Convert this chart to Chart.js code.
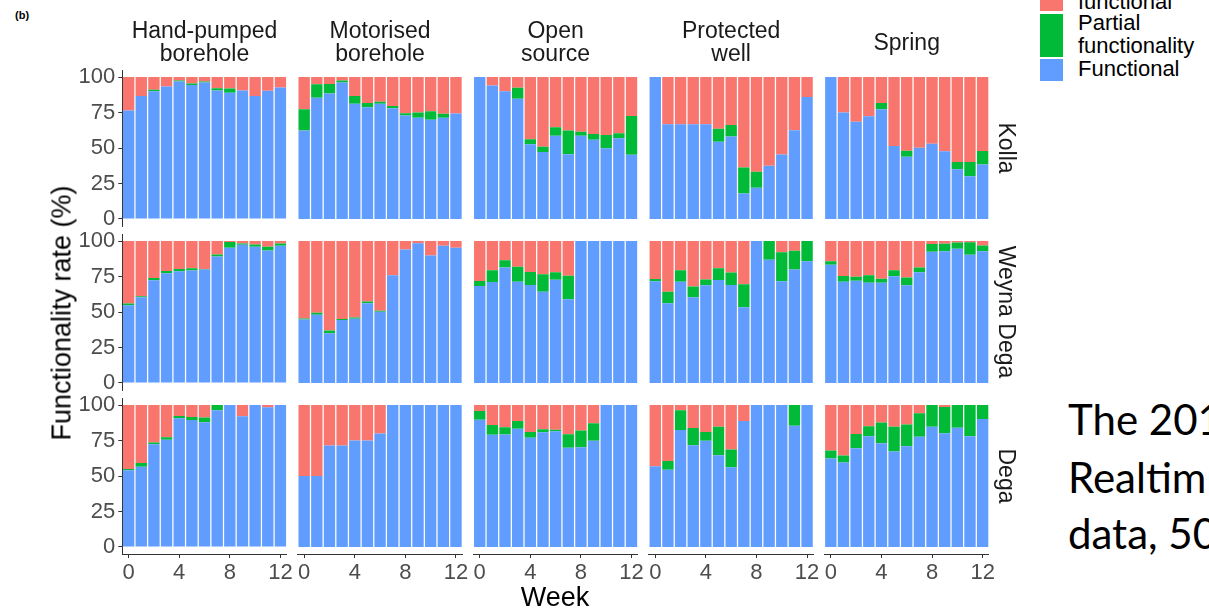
<!DOCTYPE html>
<html>
<head>
<meta charset="utf-8">
<script src="https://cdn.jsdelivr.net/npm/chart.js@4.4.1/dist/chart.umd.min.js"></script>
<style>
  html, body { margin: 0; padding: 0; background: #ffffff; }
  body { width: 1209px; height: 611px; position: relative; overflow: hidden;
         font-family: "Liberation Sans", Arial, sans-serif; }
  canvas { position: absolute; }
  .strip-top { position: absolute; display: flex; align-items: center; justify-content: center;
               text-align: center; font-size: 23px; line-height: 23px; color: #1a1a1a; white-space: pre-line; }
  .strip-right { position: absolute; font-size: 23px; color: #1a1a1a; white-space: nowrap;
                 transform: translate(-50%, -50%) rotate(90deg); }
  .axis-title { position: absolute; font-size: 27px; color: #000; white-space: nowrap; }
  .key { position: absolute; width: 23px; }
  .key-text { position: absolute; font-size: 22px; line-height: 22px; color: #000; white-space: nowrap; }
  .tag { position: absolute; left: 15px; top: 9px; font-size: 11px; font-weight: bold; color: #000; }
  .side-note { position: absolute; left: 1068px; font-family: Lato, "Open Sans", sans-serif;
               font-size: 42px; line-height: 42px; color: #000; white-space: nowrap; }
</style>
</head>
<body>
<div class="tag">(b)</div>
<div id="root"></div>
<script>
// Facets, weeks and ticks
const sourceTypes = ['Hand-pumped\nborehole', 'Motorised\nborehole', 'Open\nsource', 'Protected\nwell', 'Spring'];
const districts = ['Kolla', 'Weyna Dega', 'Dega'];
const weeks = [0, 1, 2, 3, 4, 5, 6, 7, 8, 9, 10, 11, 12];
const weekTicks = [0, 4, 8, 12];
const rateTicks = [0, 25, 50, 75, 100];
const statusNames = ['Functional', 'Partial functionality', 'Non-functional'];
const statusColors = ['#619CFF', '#00BA38', '#F8766D'];

// Functionality rate (%) per source type (rows) and week (columns)
const kollaFunctional = [
  [76.5, 86.6, 90.1, 93.4, 96.9, 94.4, 96.2, 90.6, 88.9, 90.6, 86.6, 90.4, 92.7],
  [62.4, 85.4, 88.5, 96.2, 81.2, 78.8, 81.2, 78.1, 72.9, 71.3, 69.9, 71.3, 74.4],
  [100, 94.1, 90.1, 84.7, 52.7, 47.1, 58.6, 45.6, 58.6, 55.8, 49.9, 56.9, 45.2],
  [100, 66.7, 66.7, 66.7, 66.7, 54.4, 58.1, 17.9, 21.9, 37.4, 45.4, 62.6, 85.9],
  [100, 75.0, 68.5, 72.4, 77.3, 51.4, 43.9, 50.2, 53.0, 47.7, 35.0, 30.1, 38.3]
];
const kollaPartial = [
  [0, 0, 1.0, 0, 0.7, 1.0, 0.7, 1.6, 3.0, 0, 0, 0, 0],
  [15.0, 9.6, 6.6, 1.4, 5.4, 3.0, 1.4, 1.6, 1.6, 3.8, 6.1, 2.8, 0],
  [0, 0, 0, 7.8, 3.5, 3.8, 6.1, 16.7, 2.8, 4.0, 9.2, 3.5, 27.3],
  [0, 0, 0, 0, 0, 9.2, 8.2, 18.4, 11.3, 0, 0, 0, 0],
  [0, 0, 0, 0, 4.4, 0, 4.2, 0, 0, 0, 5.1, 10.0, 9.6]
];
const kollaNonFunctional = [
  [23.5, 13.4, 8.9, 6.6, 2.4, 4.6, 3.1, 7.8, 8.1, 9.4, 13.4, 9.6, 7.3],
  [22.6, 5.0, 4.9, 2.4, 13.4, 18.2, 17.4, 20.3, 25.5, 24.9, 24.0, 25.9, 25.6],
  [0, 5.9, 9.9, 7.5, 43.8, 49.1, 35.3, 37.7, 38.6, 40.2, 40.9, 39.6, 27.5],
  [0, 33.3, 33.3, 33.3, 33.3, 36.4, 33.7, 63.7, 66.8, 62.6, 54.6, 37.4, 14.1],
  [0, 25.0, 31.5, 27.6, 18.3, 48.6, 51.9, 49.8, 47.0, 52.3, 59.9, 59.9, 52.1]
];

const weynaDegaFunctional = [
  [54.8, 60.4, 72.4, 77.3, 78.7, 79.2, 79.9, 89.2, 95.3, 97.4, 96.0, 93.4, 96.7],
  [44.7, 48.0, 35.1, 44.3, 45.2, 56.2, 50.1, 75.9, 94.1, 98.4, 89.9, 96.7, 95.3],
  [68.4, 71.2, 81.3, 71.4, 69.1, 64.2, 72.8, 59.0, 100, 100, 100, 100, 100],
  [71.7, 56.2, 71.4, 60.4, 68.9, 72.6, 69.1, 53.4, 100, 86.9, 71.7, 79.9, 85.7],
  [83.4, 71.4, 72.1, 70.7, 70.7, 75.2, 68.9, 78.0, 92.5, 92.9, 94.6, 90.4, 92.9]
];
const weynaDegaPartial = [
  [1.2, 0.7, 1.6, 1.6, 1.6, 1.6, 0.5, 1.4, 4.0, 0.9, 1.6, 2.6, 1.6],
  [0.7, 1.4, 1.9, 0.7, 0.9, 1.2, 0.7, 0, 0, 0, 0, 0, 0],
  [3.5, 8.2, 5.2, 10.5, 9.1, 12.4, 5.2, 16.6, 0, 0, 0, 0, 0],
  [1.6, 8.0, 8.0, 7.5, 4.0, 8.2, 8.7, 16.2, 0, 13.1, 20.4, 13.3, 14.3],
  [2.3, 4.0, 2.8, 5.2, 2.8, 4.2, 5.4, 3.3, 5.4, 5.2, 4.4, 8.7, 4.0]
];
const weynaDegaNonFunctional = [
  [44.0, 38.9, 26.0, 21.1, 19.7, 19.2, 19.6, 9.4, 0.7, 1.7, 2.4, 4.0, 1.7],
  [54.6, 50.6, 63.0, 55.0, 53.9, 42.6, 49.2, 24.1, 5.9, 1.6, 10.1, 3.3, 4.7],
  [28.1, 20.6, 13.5, 18.1, 21.8, 23.4, 22.0, 24.4, 0, 0, 0, 0, 0],
  [26.7, 35.8, 20.6, 32.1, 27.1, 19.2, 22.2, 30.4, 0, 0, 7.9, 6.8, 0],
  [14.3, 24.6, 25.1, 24.1, 26.5, 20.6, 25.7, 18.7, 2.1, 1.9, 1.0, 0.9, 3.1]
];

const degaFunctional = [
  [54.0, 56.5, 72.4, 75.5, 90.7, 89.5, 87.9, 96.3, 100, 92.1, 100, 98.4, 100],
  [50.0, 50.0, 71.5, 71.5, 75.0, 75.0, 80.0, 100, 100, 100, 100, 100, 100],
  [89.7, 79.0, 79.2, 83.4, 76.9, 80.8, 81.5, 69.9, 70.3, 74.8, 100, 100, 100],
  [56.8, 54.4, 82.5, 71.7, 74.8, 64.7, 56.1, 88.8, 100, 100, 100, 85.5, 100],
  [62.4, 59.6, 69.6, 78.0, 73.1, 67.3, 71.0, 77.6, 84.8, 80.1, 84.1, 78.0, 90.2]
];
const degaPartial = [
  [0.9, 2.6, 1.2, 1.9, 1.6, 2.1, 3.3, 3.7, 0, 0, 0, 0, 0],
  [0, 0, 0, 0, 0, 0, 0, 0, 0, 0, 0, 0, 0],
  [6.1, 7.0, 5.1, 5.4, 4.2, 2.1, 1.2, 9.6, 11.7, 12.4, 0, 0, 0],
  [0, 6.1, 13.8, 12.1, 6.3, 20.1, 12.6, 0, 0, 0, 0, 14.5, 0],
  [5.6, 4.9, 10.0, 7.0, 14.7, 17.5, 15.4, 16.6, 15.2, 18.5, 15.9, 22.0, 9.8]
];
const degaNonFunctional = [
  [45.1, 40.9, 26.4, 22.6, 7.7, 8.4, 8.8, 0, 0, 7.9, 0, 1.6, 0],
  [50.0, 50.0, 28.5, 28.5, 25.0, 25.0, 20.0, 0, 0, 0, 0, 0, 0],
  [4.2, 14.0, 15.7, 11.2, 18.9, 17.1, 17.3, 20.5, 18.0, 12.8, 0, 0, 0],
  [43.2, 39.5, 3.7, 16.2, 18.9, 15.2, 31.3, 11.2, 0, 0, 0, 0, 0],
  [32.0, 35.5, 20.4, 15.0, 12.2, 15.2, 13.6, 5.8, 0, 1.4, 0, 0, 0]
];

const seriesByDistrict = [
  [kollaFunctional, kollaPartial, kollaNonFunctional],
  [weynaDegaFunctional, weynaDegaPartial, weynaDegaNonFunctional],
  [degaFunctional, degaPartial, degaNonFunctional]
];

// Facet grid geometry (plot areas)
const PANEL_W = 164.45, PANEL_H = 156;
const panelLeft = c => 122.3 + c * 175.55;
const panelTop = r => 70 + r * 164;
const SPARE = 16;   // room around each plot area for labels that spill over
const Y_AXIS_W = 48;
const X_AXIS_H = 34;

const root = document.getElementById('root');
const tickFont = { family: '"Liberation Sans", Arial, sans-serif', size: 22 };

function makePanel(r, c) {
  const showY = c === 0, showX = r === districts.length - 1;
  const yW = showY ? Y_AXIS_W : 0, xH = showX ? X_AXIS_H : 0;
  const areaLeft = panelLeft(c), areaTop = panelTop(r);
  const canvasLeft = Math.floor(areaLeft - yW - SPARE);
  const canvasTop = Math.floor(areaTop - SPARE);
  const padLeft = areaLeft - yW - canvasLeft;
  const padTop = areaTop - canvasTop;
  const w = Math.ceil(padLeft + yW + PANEL_W + SPARE);
  const h = Math.ceil(padTop + PANEL_H + xH + SPARE);
  const padRight = w - padLeft - yW - PANEL_W;
  const padBottom = h - padTop - PANEL_H - xH;

  const cv = document.createElement('canvas');
  cv.width = w; cv.height = h;
  cv.style.left = canvasLeft + 'px'; cv.style.top = canvasTop + 'px';
  cv.style.width = w + 'px'; cv.style.height = h + 'px';
  root.appendChild(cv);

  const series = seriesByDistrict[r];
  const datasets = statusNames.map((name, k) => ({
    label: name,
    data: series[k][c],
    backgroundColor: statusColors[k],
    borderWidth: 0,
    barPercentage: 0.9,
    categoryPercentage: 1.0
  }));

  const zeroPad = s => { s.paddingLeft = 0; s.paddingRight = 0; s.paddingTop = 0; s.paddingBottom = 0; };

  new Chart(cv, {
    type: 'bar',
    data: { labels: weeks, datasets },
    options: {
      responsive: false,
      animation: false,
      devicePixelRatio: 1,
      layout: { padding: { left: padLeft, top: padTop, right: padRight, bottom: padBottom } },
      plugins: { legend: { display: false }, tooltip: { enabled: false } },
      scales: {
        x: {
          stacked: true,
          display: showX,
          afterBuildTicks: s => { s.ticks = weekTicks.map(v => ({ value: weeks.indexOf(v) })); },
          afterFit: s => { if (showX) { s.height = X_AXIS_H; } zeroPad(s); },
          ticks: { font: tickFont, color: '#4d4d4d', padding: 2, maxRotation: 0, autoSkip: false },
          grid: { display: true, offset: false, drawOnChartArea: false, drawTicks: true, tickLength: 4, color: '#333333' },
          border: { display: true, color: '#333333', width: 1 }
        },
        y: {
          stacked: true,
          min: -5, max: 105,
          display: showY,
          afterBuildTicks: s => { s.ticks = rateTicks.map(v => ({ value: v })); },
          afterFit: s => { if (showY) { s.width = Y_AXIS_W; } zeroPad(s); },
          ticks: { font: tickFont, color: '#4d4d4d', padding: 3 },
          grid: { display: true, drawOnChartArea: false, drawTicks: true, tickLength: 4, color: '#333333' },
          border: { display: true, color: '#333333', width: 1 }
        }
      }
    }
  });
}

districts.forEach((d, r) => sourceTypes.forEach((s, c) => makePanel(r, c)));

// Facet strips
sourceTypes.forEach((s, c) => {
  const el = document.createElement('div');
  el.className = 'strip-top';
  el.textContent = s;
  el.style.left = panelLeft(c) + 'px';
  el.style.width = PANEL_W + 'px';
  el.style.top = '14px';
  el.style.height = '56px';
  root.appendChild(el);
});
districts.forEach((d, r) => {
  const el = document.createElement('div');
  el.className = 'strip-right';
  el.textContent = d;
  el.style.left = '1006px';
  el.style.top = (panelTop(r) + PANEL_H / 2) + 'px';
  root.appendChild(el);
});

// Axis titles
const yTitle = document.createElement('div');
yTitle.className = 'axis-title';
yTitle.textContent = 'Functionality rate (%)';
yTitle.style.left = '62px';
yTitle.style.top = '313px';
yTitle.style.transform = 'translate(-50%, -50%) rotate(-90deg)';
root.appendChild(yTitle);

const xTitle = document.createElement('div');
xTitle.className = 'axis-title';
xTitle.textContent = 'Week';
xTitle.style.left = '555px';
xTitle.style.top = '597px';
xTitle.style.transform = 'translate(-50%, -50%)';
root.appendChild(xTitle);

// Legend
const legendKeys = [
  { color: statusColors[2], top: 0, height: 11 },
  { color: statusColors[1], top: 14, height: 43 },
  { color: statusColors[0], top: 59, height: 22 }
];
legendKeys.forEach(k => {
  const el = document.createElement('div');
  el.className = 'key';
  el.style.left = '1040px';
  el.style.top = k.top + 'px';
  el.style.height = k.height + 'px';
  el.style.background = k.color;
  root.appendChild(el);
});
const legendLines = [
  { text: 'functional', top: -8.6 },
  { text: 'Partial', top: 12.1 },
  { text: 'functionality', top: 35.4 },
  { text: 'Functional', top: 58.4 }
];
legendLines.forEach(l => {
  const el = document.createElement('div');
  el.className = 'key-text';
  el.textContent = l.text;
  el.style.left = '1078px';
  el.style.top = l.top + 'px';
  root.appendChild(el);
});

// Note beside the grid
const noteLines = [
  { text: 'The 201', top: 398 },
  { text: 'Realtim', top: 456 },
  { text: 'data, 50', top: 512 }
];
noteLines.forEach(n => {
  const el = document.createElement('div');
  el.className = 'side-note';
  el.textContent = n.text;
  el.style.top = n.top + 'px';
  root.appendChild(el);
});
</script>
</body>
</html>
